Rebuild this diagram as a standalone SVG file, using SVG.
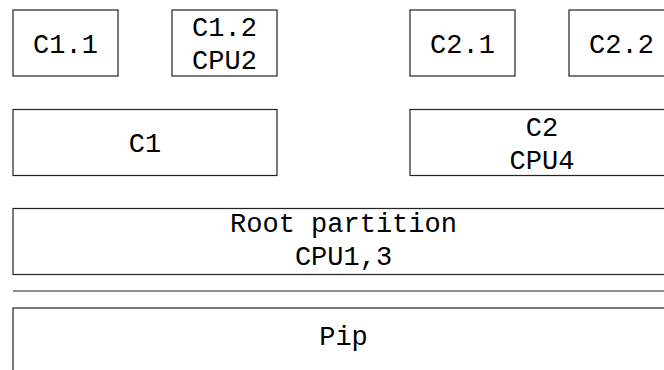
<svg xmlns="http://www.w3.org/2000/svg" width="664" height="370" viewBox="0 0 664 370">
<style>
.box{fill:#fff;stroke:#222;stroke-width:1.2}
.t{font-family:"Liberation Mono","DejaVu Sans Mono",monospace;font-size:27px;fill:#000;text-anchor:middle}
</style>
<rect width="664" height="370" fill="#fff"/>
<g id="c1_1"><rect class="box" x="13" y="10" width="105" height="66"/><text class="t" x="65.5" y="53">C1.1</text></g>
<g id="c1_2"><rect class="box" x="172" y="10" width="105" height="66"/><text class="t" x="224.5" y="36">C1.2</text><text class="t" x="224.5" y="69">CPU2</text></g>
<g id="c2_1"><rect class="box" x="410" y="10" width="105" height="66"/><text class="t" x="462.5" y="53">C2.1</text></g>
<g id="c2_2"><rect class="box" x="569" y="10" width="105" height="66"/><text class="t" x="621.5" y="53">C2.2</text></g>
<g id="c1"><rect class="box" x="13" y="109.5" width="264" height="66"/><text class="t" x="145" y="152">C1</text></g>
<g id="c2"><rect class="box" x="410" y="109.5" width="264" height="66"/><text class="t" x="542" y="136">C2</text><text class="t" x="542" y="169">CPU4</text></g>
<g id="root"><rect class="box" x="13" y="208.5" width="661" height="66"/><text class="t" x="343.5" y="232">Root partition</text><text class="t" x="343.5" y="265">CPU1,3</text></g>
<g id="connectors"><line x1="13" y1="291" x2="674" y2="291" stroke="#222" stroke-width="1.2"/></g>
<g id="pip"><rect class="box" x="13" y="308" width="661" height="66"/><text class="t" x="343.5" y="345">Pip</text></g>
</svg>
